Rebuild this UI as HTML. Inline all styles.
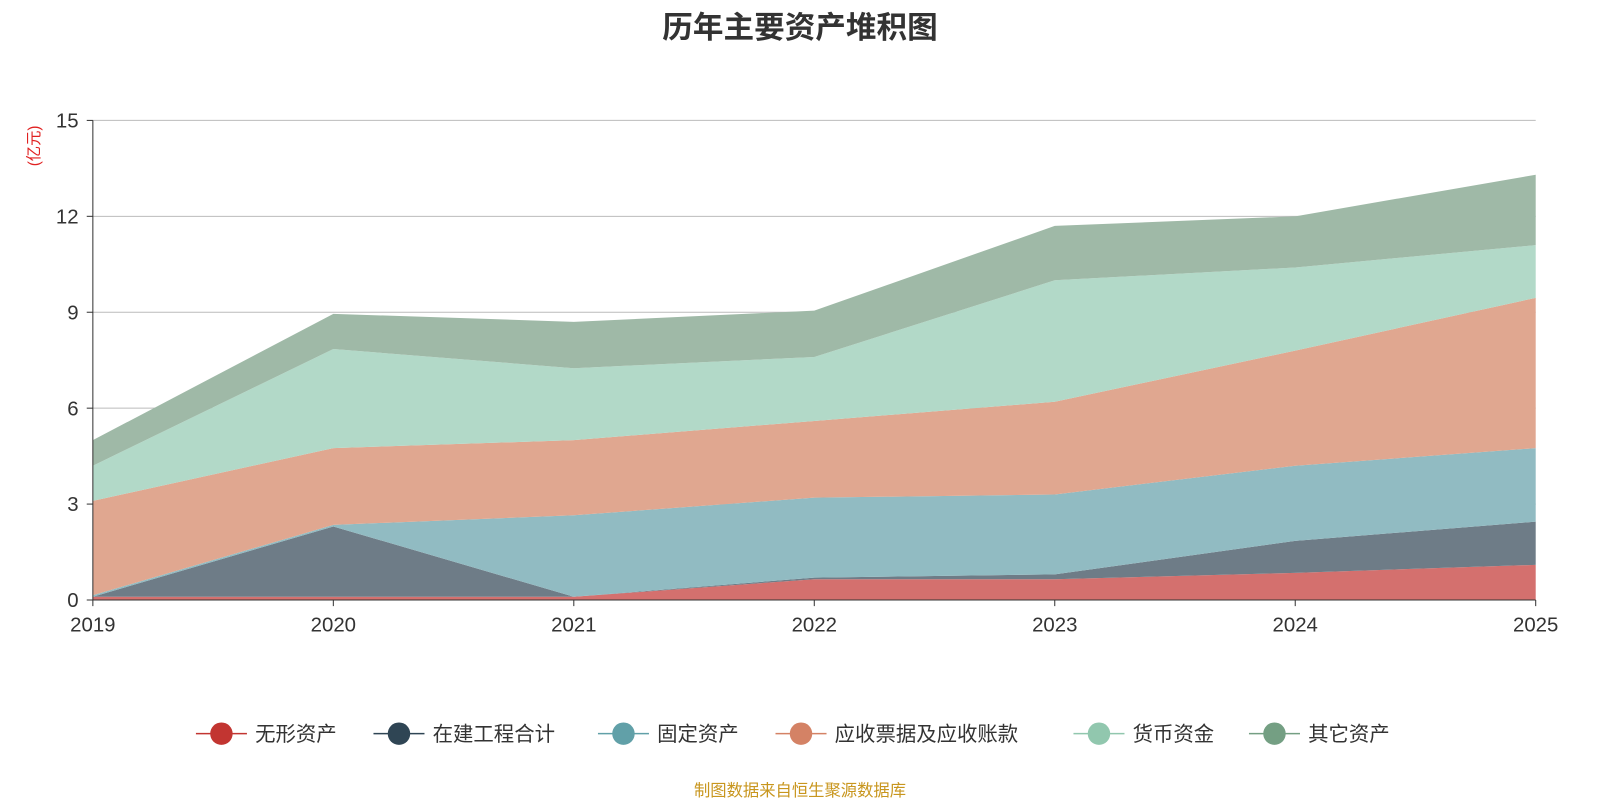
<!DOCTYPE html>
<html><head><meta charset="utf-8"><style>
body{margin:0;background:#fff;font-family:"Liberation Sans","Noto Sans CJK SC",sans-serif;}
</style></head><body>
<svg id="chart" width="1600" height="800" xmlns="http://www.w3.org/2000/svg" font-family="Liberation Sans, Noto Sans CJK SC, sans-serif">
<g transform="scale(1.0204)">
<text x="784" y="37" text-anchor="middle" font-size="30" font-weight="bold" fill="#333">历年主要资产堆积图</text>
<text transform="translate(38,143) rotate(-90)" text-anchor="middle" font-size="15" fill="#e02020">(亿元)</text>
<g id="grid"></g><g id="areas"></g><g id="axes"></g><g id="legend"></g>
<text x="784" y="780" text-anchor="middle" font-size="16" fill="#c8961e">制图数据来自恒生聚源数据库</text>
</g>
</svg>
<script>
const years=["2019","2020","2021","2022","2023","2024","2025"];
const seriesNames=["无形资产","在建工程合计","固定资产","应收票据及应收账款","货币资金","其它资产"];
const intangible=[0.1,0.1,0.1,0.65,0.65,0.85,1.1];
const construction=[0.0,2.2,0.0,0.05,0.15,1.0,1.35];
const fixedAssets=[0.05,0.05,2.55,2.5,2.5,2.35,2.3];
const receivables=[2.95,2.4,2.35,2.4,2.9,3.6,4.7];
const cash=[1.1,3.1,2.25,2.0,3.8,2.6,1.65];
const otherAssets=[0.8,1.1,1.45,1.45,1.7,1.6,2.2];
const yTicks=[0,3,6,9,12,15];
const colors=["#d4706e","#6e7c87","#91bbc2","#e0a790","#b2d9c8","#9fb9a7"];
const markerColors=["#c23531","#2f4554","#61a0a8","#d48265","#91c7ae","#749f83"];
const ns="http://www.w3.org/2000/svg";
const X0=91,X1=1505,Y0=588,Y1=118;
const xs=i=>X0+(X1-X0)*i/(years.length-1);
const ys=v=>Y0-(Y0-Y1)*v/15;
function mk(t,a,p){const e=document.createElementNS(ns,t);for(const k in a)e.setAttribute(k,a[k]);p.appendChild(e);return e;}
const grid=document.getElementById('grid'),axes=document.getElementById('axes'),areas=document.getElementById('areas'),legend=document.getElementById('legend');
yTicks.forEach(v=>{
 if(v>0){const l=mk('line',{x1:X0,x2:X1,y1:ys(v),y2:ys(v),stroke:'#bbb','stroke-width':1},grid);
 
 }
 const t=mk('text',{x:X0-14,y:ys(v)+7,'text-anchor':'end','font-size':20,fill:'#333'},axes);t.textContent=v;
 
 
 mk('line',{x1:X0-6,x2:X0,y1:ys(v),y2:ys(v),stroke:'#333'},axes);
});
const data=[intangible,construction,fixedAssets,receivables,cash,otherAssets];
let base=years.map(()=>0);
data.forEach((s,k)=>{
 const top=base.map((b,i)=>b+s[i]);
 let d='M'+years.map((_,i)=>xs(i)+','+ys(top[i])).join(' L');
 d+=' L'+years.map((_,i)=>i).reverse().map(i=>xs(i)+','+ys(base[i])).join(' L')+'Z';
 const p=mk('path',{d:d,fill:colors[k]},areas);
 
 
 base=top;
});
mk('line',{x1:X0,x2:X0,y1:Y1,y2:Y0,stroke:'#333'},axes);
mk('line',{x1:X0,x2:X1,y1:Y0,y2:Y0,stroke:'#333'},axes);
years.forEach((y,i)=>{
 mk('line',{x1:xs(i),x2:xs(i),y1:Y0,y2:Y0+6,stroke:'#333'},axes);
 const t=mk('text',{x:xs(i),y:Y0+31,'text-anchor':'middle','font-size':20,fill:'#333'},axes);t.textContent=y;
 
 
});
const lx=[192,366,586,760,1052,1224];
seriesNames.forEach((n,k)=>{
 const g=mk('g',{},legend);
 
 
 mk('line',{x1:lx[k],x2:lx[k]+50,y1:719,y2:719,stroke:markerColors[k],'stroke-width':1.5},g);
 mk('circle',{cx:lx[k]+25,cy:719,r:11,fill:markerColors[k]},g);
 const t=mk('text',{x:lx[k]+58,y:726,'font-size':20,fill:'#333'},g);t.textContent=n;
});
</script>
</body></html>
